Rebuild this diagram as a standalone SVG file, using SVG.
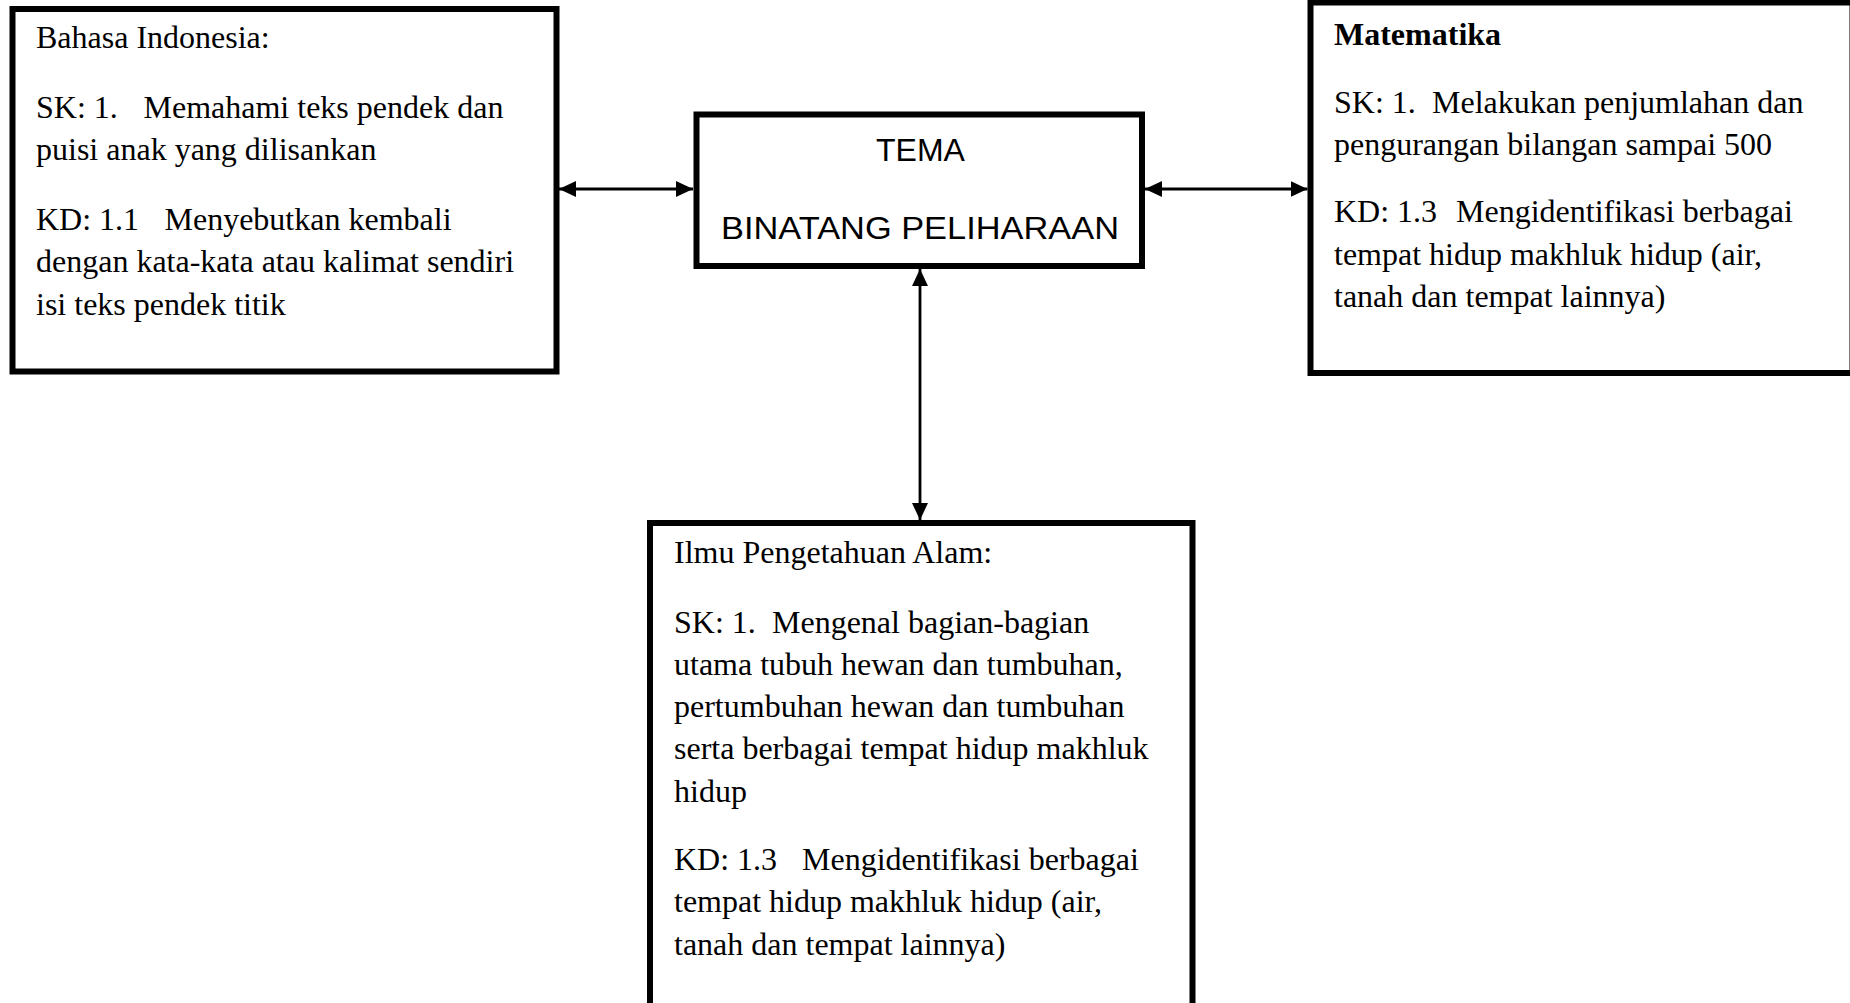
<svg xmlns="http://www.w3.org/2000/svg" width="1850" height="1003" viewBox="0 0 1850 1003">
<style>
.box{fill:#fff;stroke:#000;stroke-width:6}
.t{font-family:"Liberation Serif","Times New Roman",serif;font-size:32px;fill:#000}
.b{font-weight:bold}
.c{font-family:"Comic Sans MS","Liberation Sans",Arial,sans-serif;font-size:32px;fill:#000}
.con{stroke:#000;stroke-width:2.8;fill:none;marker-start:url(#ah);marker-end:url(#ah)}
</style>
<defs>
<marker id="ah" markerUnits="userSpaceOnUse" markerWidth="17" markerHeight="16" refX="17" refY="8" orient="auto-start-reverse" viewBox="0 0 17 16">
<path d="M0,0 L17,8 L0,16 Z" fill="#000"/>
</marker>
</defs>
<rect width="1850" height="1003" fill="#fff"/>
<g id="connectors">
<line class="con" x1="559" y1="189" x2="693" y2="189"/>
<line class="con" x1="1145" y1="189" x2="1307.5" y2="189"/>
<line class="con" x1="920" y1="269" x2="920" y2="520"/>
</g>
<g id="bahasa-indonesia">
<rect class="box" x="12.5" y="9" width="544" height="362.5"/>
<text class="t" x="36" y="48">Bahasa Indonesia:</text>
<text class="t" y="118"><tspan x="36">SK: 1.</tspan><tspan x="143.5">Memahami teks pendek dan</tspan></text>
<text class="t" x="36" y="160">puisi anak yang dilisankan</text>
<text class="t" y="230"><tspan x="36">KD: 1.1</tspan><tspan x="164.5">Menyebutkan kembali</tspan></text>
<text class="t" x="36" y="272">dengan kata-kata atau kalimat sendiri</text>
<text class="t" x="36" y="315">isi teks pendek titik</text>
</g>
<g id="tema">
<rect class="box" x="696.5" y="114.5" width="445.5" height="151.5"/>
<text class="c" x="920.5" y="160.5" text-anchor="middle">TEMA</text>
<text class="c" x="721" y="239" textLength="398" lengthAdjust="spacingAndGlyphs">BINATANG PELIHARAAN</text>
</g>
<g id="matematika">
<rect class="box" x="1310.5" y="2.5" width="542" height="370.5"/>
<text class="t b" x="1334" y="45">Matematika</text>
<text class="t" y="113"><tspan x="1334">SK: 1.</tspan><tspan x="1432">Melakukan penjumlahan dan</tspan></text>
<text class="t" x="1334" y="155">pengurangan bilangan sampai 500</text>
<text class="t" y="222"><tspan x="1334">KD: 1.3</tspan><tspan x="1456">Mengidentifikasi berbagai</tspan></text>
<text class="t" x="1334" y="265">tempat hidup makhluk hidup (air,</text>
<text class="t" x="1334" y="307">tanah dan tempat lainnya)</text>
</g>
<g id="ipa">
<rect class="box" x="650" y="523" width="542.5" height="490"/>
<text class="t" x="674" y="563">Ilmu Pengetahuan Alam:</text>
<text class="t" y="633"><tspan x="674">SK: 1.</tspan><tspan x="772">Mengenal bagian-bagian</tspan></text>
<text class="t" x="674" y="675">utama tubuh hewan dan tumbuhan,</text>
<text class="t" x="674" y="717">pertumbuhan hewan dan tumbuhan</text>
<text class="t" x="674" y="759">serta berbagai tempat hidup makhluk</text>
<text class="t" x="674" y="802">hidup</text>
<text class="t" y="870"><tspan x="674">KD: 1.3</tspan><tspan x="802">Mengidentifikasi berbagai</tspan></text>
<text class="t" x="674" y="912">tempat hidup makhluk hidup (air,</text>
<text class="t" x="674" y="955">tanah dan tempat lainnya)</text>
</g>
</svg>
